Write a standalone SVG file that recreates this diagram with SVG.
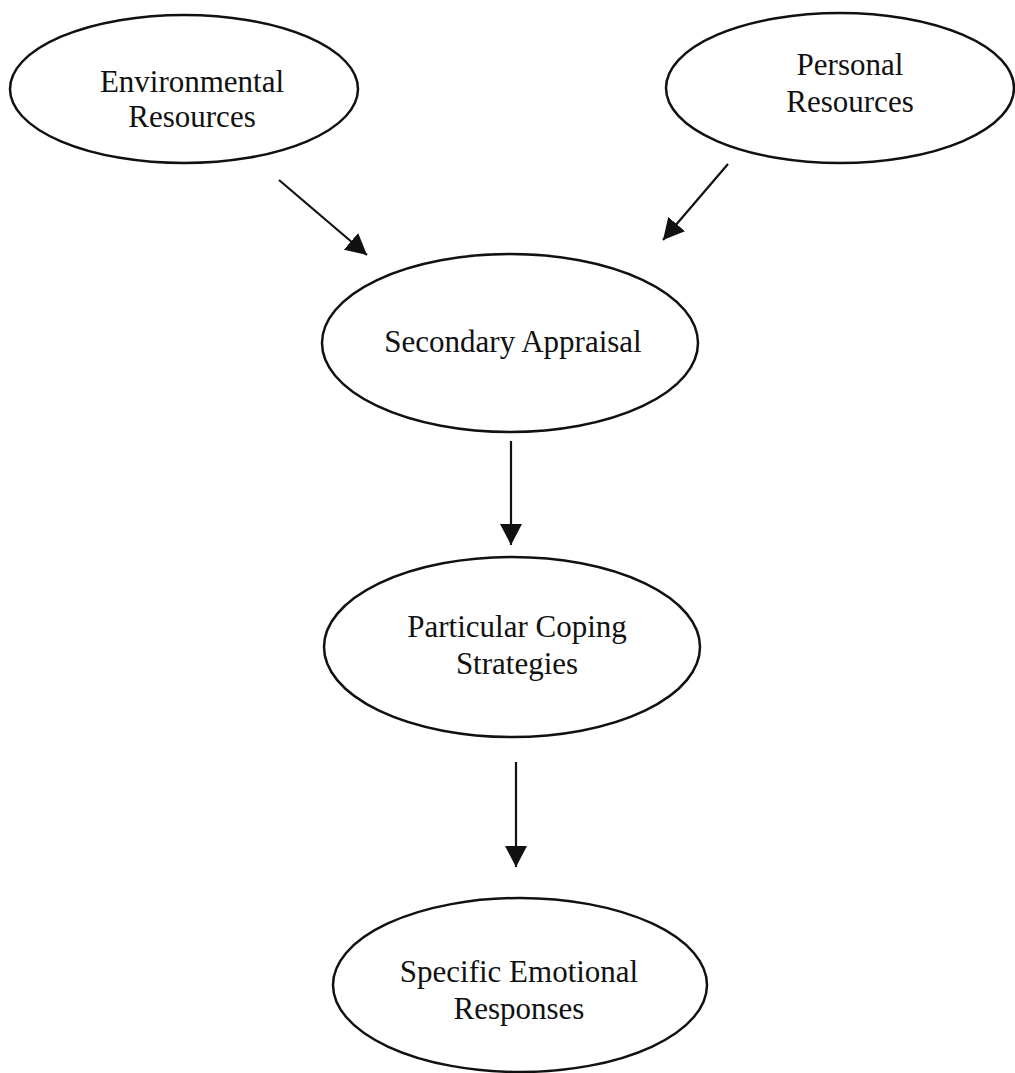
<svg xmlns="http://www.w3.org/2000/svg" width="1015" height="1073" viewBox="0 0 1015 1073">
  <style>
    .node ellipse { fill: #ffffff; stroke: #111111; stroke-width: 2.5; }
    .node text { font-family: "Liberation Serif", "Times New Roman", serif; font-size: 31px; fill: #111111; text-anchor: middle; }
    .edge { stroke: #111111; stroke-width: 2.2; fill: none; marker-end: url(#head); }
  </style>
  <defs>
    <marker id="head" markerUnits="userSpaceOnUse" markerWidth="22" markerHeight="22" viewBox="0 0 22 22" refX="21" refY="11" orient="auto">
      <path d="M0,0 L21,11 L0,22 Z" fill="#111111"/>
    </marker>
  </defs>
  <rect width="1015" height="1073" fill="#ffffff"/>

  <g id="connectors">
    <line class="edge" x1="279" y1="180" x2="367" y2="255"/>
    <line class="edge" x1="728" y1="164" x2="663" y2="240"/>
    <line class="edge" x1="511" y1="441" x2="511" y2="545"/>
    <line class="edge" x1="516" y1="762" x2="516" y2="867"/>
  </g>

  <g id="environmental-resources" class="node">
    <ellipse cx="184" cy="89" rx="174" ry="74"/>
    <text x="192" y="92">Environmental</text>
    <text x="192" y="127">Resources</text>
  </g>

  <g id="personal-resources" class="node">
    <ellipse cx="840" cy="88" rx="174" ry="75"/>
    <text x="850" y="75">Personal</text>
    <text x="850" y="112">Resources</text>
  </g>

  <g id="secondary-appraisal" class="node">
    <ellipse cx="510" cy="343" rx="188" ry="89"/>
    <text x="513" y="352">Secondary Appraisal</text>
  </g>

  <g id="particular-coping-strategies" class="node">
    <ellipse cx="512" cy="647" rx="188" ry="90"/>
    <text x="517" y="637">Particular Coping</text>
    <text x="517" y="674">Strategies</text>
  </g>

  <g id="specific-emotional-responses" class="node">
    <ellipse cx="520" cy="985" rx="187" ry="87"/>
    <text x="519" y="982">Specific Emotional</text>
    <text x="519" y="1019">Responses</text>
  </g>
</svg>
